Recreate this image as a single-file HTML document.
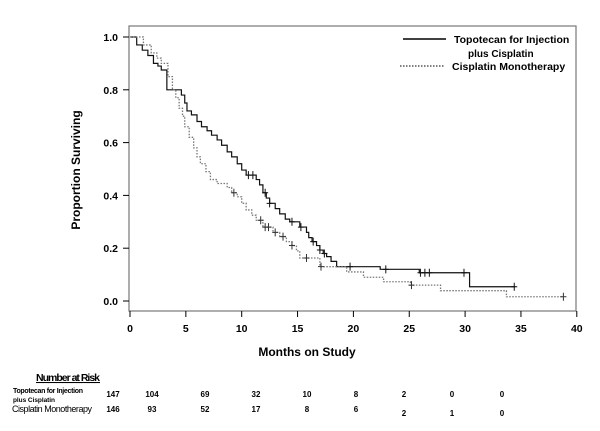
<!DOCTYPE html>
<html><head><meta charset="utf-8"><style>
body{margin:0;background:#fff;}
svg{display:block;font-family:"Liberation Sans",Arial,sans-serif;font-weight:bold;}
</style></head><body>
<svg id="chart" width="600" height="431" viewBox="0 0 600 431" xmlns="http://www.w3.org/2000/svg">
<rect x="129" y="26" width="447" height="285" fill="none" stroke="#777" stroke-width="1.2"/>
<g id="axes"></g>
<g id="series"></g>
<text transform="translate(80,170) rotate(-90)" text-anchor="middle" font-size="12">Proportion Surviving</text>
<text x="307" y="356" text-anchor="middle" font-size="12">Months on Study</text>
<g font-size="10.5">
<line x1="403" y1="39" x2="446" y2="39" stroke="#000" stroke-width="1.5"/>
<text x="454" y="43">Topotecan for Injection</text>
<text x="468" y="57" font-size="10">plus Cisplatin</text>
<line x1="400" y1="66" x2="444" y2="66" stroke="#555" stroke-width="1.5" stroke-dasharray="1.5,1.5"/>
<text x="452" y="70">Cisplatin Monotherapy</text>
</g>
<g>
<text x="36" y="381" font-size="10.5" text-decoration="underline" textLength="64">Number at Risk</text>
<text x="13" y="393" font-size="7" textLength="70">Topotecan for Injection</text>
<text x="13" y="402" font-size="6.5" textLength="42">plus Cisplatin</text>
<text x="12" y="412" font-size="9" font-weight="normal" textLength="80">Cisplatin Monotherapy</text>
<g id="risk"></g>
</g>
</svg>
<script>
const xTicks=[0,5,10,15,20,25,30,35,40];
const yTicks=[0.0,0.2,0.4,0.6,0.8,1.0];
const topoT=[0,0.6,1.1,1.6,2.1,2.5,2.8,3.3,4.6,4.9,5.1,5.5,6.0,6.4,6.9,7.3,7.8,8.2,8.7,9.1,9.6,10.0,10.4,11.3,11.6,11.9,12.2,12.5,13.0,13.4,13.9,14.3,15.2,15.8,16.0,16.3,16.7,17.0,17.3,17.6,18.0,18.5,22.4,25.9,30.4,34.5];
const topoS=[1.0,0.97,0.95,0.93,0.90,0.89,0.875,0.80,0.78,0.75,0.72,0.705,0.68,0.66,0.645,0.628,0.61,0.59,0.565,0.546,0.52,0.496,0.477,0.46,0.44,0.41,0.39,0.37,0.35,0.33,0.31,0.30,0.28,0.26,0.24,0.225,0.21,0.193,0.18,0.168,0.15,0.13,0.12,0.107,0.054,0.054];
const cisT=[0,1.2,1.9,2.4,2.8,3.4,3.8,4.1,4.4,4.7,4.9,5.3,5.7,6.0,6.3,6.8,7.2,7.8,8.7,9.1,9.6,10.0,10.4,10.9,11.3,11.9,12.8,13.4,14.0,14.5,14.9,15.2,16.4,17.0,19.4,20.9,22.7,25.1,27.8,33.7,38.8];
const cisS=[1.0,0.97,0.94,0.92,0.90,0.85,0.80,0.77,0.73,0.70,0.66,0.62,0.58,0.546,0.52,0.49,0.46,0.445,0.43,0.41,0.395,0.37,0.345,0.325,0.306,0.28,0.26,0.244,0.225,0.21,0.19,0.163,0.163,0.13,0.11,0.09,0.073,0.06,0.039,0.016,0.016];
const topoCens=[10.6,11.0,12.1,12.5,14.5,15.3,16.4,17.0,17.4,19.7,22.9,26.0,26.4,26.8,29.9,34.4];
const cisCens=[9.3,11.7,12.1,12.4,13.0,13.7,14.5,15.8,17.1,25.2,38.8];
const riskTopo=["147","104","69","32","10","8","2","0","0"];
const riskCis=["146","93","52","17","8","6","2","1","0"];
const riskX=[113,152,205,256,307,356,404,452,502];
const riskCisDy=[0,0,0,0,0,0,4,4,4];
const NS="http://www.w3.org/2000/svg";
function xs(m){return 130+m*11.17;}
function ys(v){return 301-v*264;}
function mk(tag,attrs,parent,txt){const e=document.createElementNS(NS,tag);for(const k in attrs)e.setAttribute(k,attrs[k]);if(txt!==undefined)e.textContent=txt;parent.appendChild(e);return e;}
const ax=document.getElementById('axes');
xTicks.forEach(t=>{
 const l=mk('line',{x1:xs(t),x2:xs(t),y1:311,y2:317,stroke:'#000'},ax);
 
 
 const tx=mk('text',{x:xs(t),y:332,'text-anchor':'middle','font-size':10.5},ax,String(t));
 
 
});
yTicks.forEach(t=>{
 const l=mk('line',{x1:123,x2:129,y1:ys(t),y2:ys(t),stroke:'#000'},ax);
 
 
 const tx=mk('text',{x:118,y:ys(t)+4,'text-anchor':'end','font-size':10.5},ax,t.toFixed(1));
 
 
});
function stepPath(T,S){let d='M'+xs(T[0])+','+ys(S[0]);for(let i=1;i<T.length;i++){d+=' H'+xs(T[i])+' V'+ys(S[i]);}return d;}
function survAt(T,S,t){let v=S[0];for(let i=0;i<T.length;i++){if(T[i]<=t)v=S[i];}return v;}
const sg=document.getElementById('series');
const p1=mk('path',{d:stepPath(topoT,topoS),fill:'none',stroke:'#111','stroke-width':1.2},sg);


const p2=mk('path',{d:stepPath(cisT,cisS),fill:'none',stroke:'#777','stroke-width':1.3,'stroke-dasharray':'1.5,1.5'},sg);


function cens(arr,T,S,col,name){arr.forEach(t=>{const x=xs(t),y=ys(survAt(T,S,t));
 const c=mk('path',{d:`M${x-3},${y} H${x+3} M${x},${y-4} V${y+4}`,stroke:col,'stroke-width':1},sg);
 
 });}
cens(topoCens,topoT,topoS,'#111','topotecan-censor');
cens(cisCens,cisT,cisS,'#333','cisplatin-censor');
const rg=document.getElementById('risk');
riskTopo.forEach((v,i)=>{const t=mk('text',{x:riskX[i],y:397,'text-anchor':'middle','font-size':8},rg,v);
 
 });
riskCis.forEach((v,i)=>{const t=mk('text',{x:riskX[i],y:412+riskCisDy[i],'text-anchor':'middle','font-size':8},rg,v);
 
 });
</script>
</body></html>
